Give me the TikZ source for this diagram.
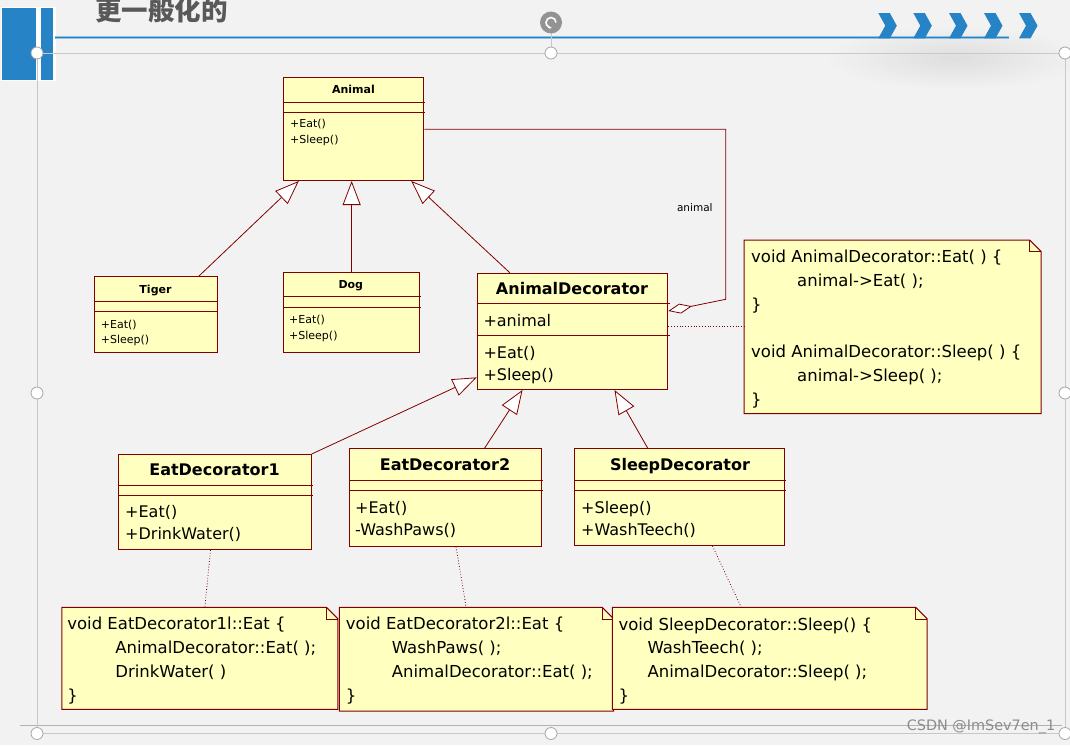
\documentclass[tikz,border=0pt]{standalone}
\usepackage{fontspec}
\setmainfont{DejaVu Sans}
\newfontfamily\cjkfont{Noto Sans CJK SC}
\usetikzlibrary{arrows.meta}
\definecolor{slidebg}{RGB}{242,242,242}
\definecolor{slideblue}{RGB}{38,131,198}
\definecolor{titlegray}{RGB}{89,89,89}
\definecolor{umlred}{RGB}{128,0,0}
\definecolor{umlfill}{RGB}{255,255,192}
\definecolor{framegray}{RGB}{200,200,200}

\begin{document}
\begin{tikzpicture}[x=1pt, y=-1pt,
  umlbox/.style={draw=umlred, fill=umlfill, line width=1pt, inner sep=0pt, anchor=north west},
  notebox/.style={inner sep=0pt, anchor=north west},
  notepath/.style={draw=umlred, fill=umlfill, line width=1pt},
  compart/.style={draw=umlred, line width=1pt},
  smallname/.style={font=\bfseries\fontsize{11}{13}\selectfont, anchor=base, inner sep=0pt},
  bigname/.style={font=\bfseries\fontsize{16}{19}\selectfont, anchor=base, inner sep=0pt},
  smallops/.style={font=\fontsize{11}{15.5}\selectfont, align=left, anchor=north west, inner sep=0pt},
  bigops/.style={font=\fontsize{16}{21.5}\selectfont, align=left, anchor=north west, inner sep=0pt},
  codetext/.style={font=\fontsize{16.5}{23.8}\selectfont, align=left, anchor=north west, inner sep=0pt},
  gen/.style={draw=umlred, line width=0.8pt, -{Triangle[fill=white, length=24pt, width=18pt]}},
  assoc/.style={draw=umlred, line width=0.8pt, -{Diamond[fill=white, length=24pt, width=10pt]}},
  dep/.style={draw=umlred, line width=0.8pt, dotted},
  handle/.style={draw=gray!70, fill=white, line width=0.8pt}
]
\fill[slidebg] (0,0) rectangle (1070,745);
\useasboundingbox (0,0) rectangle (1070,745);

% slide header
\fill[white] (0.5,6.5) rectangle (55.5,80.5);
\fill[slideblue] (2,8.4) rectangle (36.4,80);
\fill[slideblue] (41.3,8.4) rectangle (52.8,80);
\node[font=\cjkfont\bfseries\fontsize{26.5}{27}\selectfont, text=titlegray, anchor=base west, inner sep=0pt] (slidetitle) at (95,20) {更一般化的};
\shade[inner color={rgb,255:red,222;green,222;blue,222}, outer color=slidebg] (955,58) ellipse (130pt and 32pt);
\draw[slideblue!50, line width=2.4pt] (55,37.5) -- (1009,37.5);
\draw[slideblue, line width=0.9pt] (55,37.5) -- (1009,37.5);
\foreach \x in {878.3,913.3,949,984,1019}
  \fill[slideblue] (\x,13) -- ++(11.5,0) -- ++(7,12.7) -- ++(-7,12.6) -- ++(-11.5,0) -- ++(7,-12.6) -- cycle;

% classes
\node[umlbox, minimum width=140pt, minimum height=102.7pt] (animal) at (283.3,77.3) {};
\draw[compart] (283.3,102.3) -- (425,102.3) (283.3,112.3) -- (425,112.3);
\node[smallname] (animalname) at (353.5,93.3) {Animal};
\node[smallops] (animalops) at (290,116.5) {\strut+Eat()\\+Sleep()};

\node[umlbox, minimum width=122.4pt, minimum height=76.3pt] (tiger) at (94.3,276) {};
\draw[compart] (94.3,301.3) -- (218,301.3) (94.3,311.7) -- (218,311.7);
\node[smallname] (tigername) at (155.5,293) {Tiger};
\node[smallops] (tigerops) at (100.7,317.2) {\strut+Eat()\\+Sleep()};

\node[umlbox, minimum width=135.7pt, minimum height=80pt] (dog) at (283.3,272.3) {};
\draw[compart] (283.3,296) -- (421,296) (283.3,307.3) -- (421,307.3);
\node[smallname] (dogname) at (350.8,288.3) {Dog};
\node[smallops] (dogops) at (289,312.5) {\strut+Eat()\\+Sleep()};

\node[umlbox, minimum width=190.6pt, minimum height=116.3pt] (decor) at (476.7,272.7) {};
\draw[compart] (476.7,303.3) -- (669.5,303.3) (476.7,335) -- (669.5,335);
\node[bigname] (decorname) at (572,294) {AnimalDecorator};
\node[bigops, anchor=base west] (decorattr) at (483.3,326) {+animal};
\node[bigops] (decorops) at (483.3,343.25) {\strut+Eat()\\+Sleep()};

\node[umlbox, minimum width=192.4pt, minimum height=95pt] (eatone) at (118.3,454) {};
\draw[compart] (118.3,485) -- (312.5,485) (118.3,495.7) -- (312.5,495.7);
\node[bigname] (eatonename) at (214.5,475) {EatDecorator1};
\node[bigops] (eatoneops) at (125,502.25) {\strut+Eat()\\+DrinkWater()};

\node[umlbox, minimum width=191.4pt, minimum height=97.4pt] (eattwo) at (349.3,448.3) {};
\draw[compart] (349.3,480.7) -- (542.5,480.7) (349.3,490.7) -- (542.5,490.7);
\node[bigname] (eattwoname) at (445,470.7) {EatDecorator2};
\node[bigops] (eattwoops) at (355,498.25) {\strut+Eat()\\-WashPaws()};

\node[umlbox, minimum width=210pt, minimum height=96.7pt] (sleepdec) at (574.3,448.3) {};
\draw[compart] (574.3,480) -- (786,480) (574.3,490.7) -- (786,490.7);
\node[bigname] (sleepdecname) at (680,470.7) {SleepDecorator};
\node[bigops] (sleepdecops) at (581,498.25) {\strut+Sleep()\\+WashTeech()};

% notes
\node[notebox, minimum width=296.7pt, minimum height=173.3pt] (noteA) at (744,240) {};
\node[notebox, minimum width=275.7pt, minimum height=101.7pt] (noteB) at (61.8,607.3) {};
\node[notebox, minimum width=274pt, minimum height=103.4pt] (noteC) at (339.3,607.3) {};
\node[notebox, minimum width=314.4pt, minimum height=101.7pt] (noteD) at (612.3,607.3) {};
\foreach \n in {noteA,noteB,noteC,noteD} {
  \draw[notepath] (\n.north west) -- ([xshift=-11.5pt]\n.north east) -- ([yshift=-11.5pt]\n.north east) -- (\n.south east) -- (\n.south west) -- cycle;
  \draw[compart, line width=0.6pt] ([xshift=-11.5pt]\n.north east) |- ([yshift=-11.5pt]\n.north east);
}
\node[codetext] (noteAtext) at (751,245.8) {\strut void AnimalDecorator::Eat( ) \{\\
  \hspace*{46pt}animal->Eat( );\\
  \}\\[23.8pt]
  void AnimalDecorator::Sleep( ) \{\\
  \hspace*{46pt}animal->Sleep( );\\
  \}};
\node[codetext] (noteBtext) at (67.1,612.8) {\strut void EatDecorator1l::Eat \{\\
  \hspace*{48pt}AnimalDecorator::Eat( );\\
  \hspace*{48pt}DrinkWater( )\\
  \}};
\node[codetext] (noteCtext) at (345.7,612.8) {\strut void EatDecorator2l::Eat \{\\
  \hspace*{46pt}WashPaws( );\\
  \hspace*{46pt}AnimalDecorator::Eat( );\\
  \}};
\node[codetext] (noteDtext) at (618.3,613.3) {\strut void SleepDecorator::Sleep() \{\\
  \hspace*{29pt}WashTeech( );\\
  \hspace*{29pt}AnimalDecorator::Sleep( );\\
  \}};

% connectors
\draw[gen] ([xshift=43pt]tiger.north) -- ([xshift=-55pt]animal.south);
\draw[gen] (dog.north) -- (dog.north |- animal.south);
\draw[gen] ([xshift=-62.7pt]decor.north) -- ([xshift=57.4pt]animal.south);
\draw[gen] (eatone.north east) -- ([yshift=-46pt]decor.west);
\draw[gen] ([xshift=39pt]eattwo.north) -- ([xshift=-50pt]decor.south);
\draw[gen] ([xshift=-32pt]sleepdec.north) -- ([xshift=42pt]decor.south);
\draw[assoc] (animal.east) -| node[pos=0.73, left=12.7pt, inner sep=0pt, font=\fontsize{10.5}{12}\selectfont] (rolename) {animal} (725.7,299.3) -- ([yshift=-38.3pt]decor.north east);
\draw[dep] (decor.east |- noteA.west) -- (noteA.west);
\draw[dep] ([xshift=-4.5pt]eatone.south) -- ([xshift=5pt]noteB.north);
\draw[dep] ([xshift=10.5pt]eattwo.south) -- ([xshift=-10.3pt]noteC.north);
\draw[dep] ([xshift=32.7pt]sleepdec.south) -- ([xshift=-28.5pt]noteD.north);

% selection frame
\draw[gray!60, line width=1pt] (20,725.5) -- (1062,725.5);
\draw[framegray, line width=0.8pt] (37,53) rectangle (1065,733.5);
\draw[framegray, line width=0.8pt] (551,33) -- (551,53);
\fill[gray!85] (551,22.5) circle[radius=11pt];
\draw[white, line width=1.6pt, -{Stealth[length=3pt]}] (556,22.5) arc[start angle=0, end angle=280, radius=5pt];
\foreach \p in {(37,53),(551,53),(1065,53),(37,393),(1065,393),(37,733.5),(551,733.5),(1065,733.5)}
  \draw[handle] \p circle[radius=6pt];
\node[font=\fontsize{14.4}{16}\selectfont, text=black!45, inner sep=0pt] (watermark) at (981,727) {CSDN @ImSev7en\_1};
\end{tikzpicture}
\end{document}
